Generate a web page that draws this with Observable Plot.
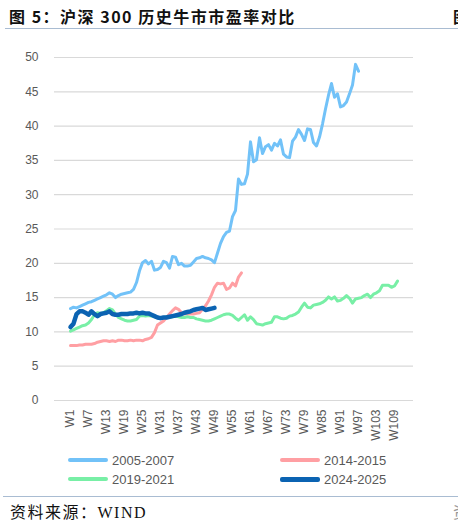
<!DOCTYPE html>
<html>
<head>
<meta charset="utf-8">
<script src="https://cdn.jsdelivr.net/npm/d3@7"></script>
<script src="https://cdn.jsdelivr.net/npm/@observablehq/plot@0.6"></script>
<style>
  html, body { margin: 0; padding: 0; background: #fff; }
  #wrap { position: relative; width: 458px; height: 521px; overflow: hidden; background: #fff; }
  .title { position: absolute; left: 9px; top: 4px; font-family: "Noto Sans CJK SC", sans-serif; font-weight: 700; font-size: 16px; letter-spacing: 1.5px; color: #111; white-space: nowrap; }
  .edge { position: absolute; left: 453px; top: 4px; font-family: "Noto Sans CJK SC", sans-serif; font-weight: 700; font-size: 16px; color: #111; }
  .rule { position: absolute; left: 5px; width: 453px; height: 0; border-top: 1.5px solid #A9BCD2; }
  #chart { position: absolute; left: 0; top: 30px; }
  .leg { position: absolute; display: flex; align-items: center; font-family: "Liberation Sans", Arial, sans-serif; font-size: 13px; color: #595959; height: 20px; }
  .sw { width: 40px; height: 4px; border-radius: 2px; margin-right: 4px; }
  .foot { position: absolute; left: 10px; top: 499px; font-family: "Liberation Serif", "Noto Sans CJK SC", serif; font-size: 16px; letter-spacing: 1.5px; color: #111; white-space: nowrap; }
  .footedge { position: absolute; left: 453px; top: 499px; font-family: "Noto Sans CJK SC", sans-serif; font-size: 16px; color: #999; }
</style>
</head>
<body>
<div id="wrap">
  <div class="title">图 5：沪深 300 历史牛市市盈率对比</div>
  <div class="edge">图</div>
  <div class="rule" style="top:28px"></div>
  <div id="chart"></div>
  <div id="legend"></div>
  <div class="rule" style="top:496px; left:3px; width:455px"></div>
  <div class="foot">资料来源：WIND</div>
  <div class="footedge">资</div>
</div>
<script>
// ---- data ----
const weeks = d3.range(1, 111).map(i => "W" + i);
const tickLabels = ["W1","W7","W13","W19","W25","W31","W37","W43","W49","W55","W61","W67","W73","W79","W85","W91","W97","W103","W109"];
const yTicks = [0, 5, 10, 15, 20, 25, 30, 35, 40, 45, 50];
const seriesNames = ["2005-2007", "2014-2015", "2019-2021", "2024-2025"];
const seriesColors = ["#72C2F8", "#FF9FA3", "#78EFA6", "#0B63B2"];
const seriesWidths = [3, 3, 3, 4.5];

const pe2005 = [13.4,13.6,13.5,13.7,13.9,14.1,14.3,14.4,14.6,14.8,15.0,15.2,15.4,15.7,15.5,15.0,15.3,15.5,15.6,15.7,
  15.8,16.2,17.2,18.9,20.1,20.4,19.9,20.3,19.0,19.1,19.4,20.3,20.1,19.3,21.0,20.9,19.8,20.0,19.6,19.6,
  19.7,20.2,20.7,20.8,21.0,20.8,20.7,20.5,20.1,21.5,22.9,23.9,24.5,24.7,26.8,27.7,32.3,31.5,31.6,33.0,
  37.7,34.8,35.1,38.3,36.0,37.0,37.3,36.5,37.5,37.1,38.0,35.9,35.5,35.4,37.8,38.4,39.5,38.8,37.9,39.6,
  39.5,37.6,37.1,38.4,40.3,42.5,44.5,46.2,44.2,44.7,42.8,43.0,43.5,44.7,46.0,49.0,48.0];
const pe2014 = [8.0,8.0,8.0,8.1,8.1,8.2,8.2,8.2,8.3,8.5,8.6,8.7,8.7,8.6,8.7,8.6,8.8,8.8,8.7,8.7,
  8.8,8.7,8.8,8.8,8.7,8.9,9.0,9.2,9.9,11.0,11.3,11.6,12.1,12.6,13.1,13.5,13.3,12.8,12.6,12.6,
  12.6,12.6,12.7,12.8,13.3,13.8,14.5,15.4,16.5,17.1,17.0,17.1,16.2,16.4,17.1,16.7,18.0,18.6];
const pe2019 = [10.1,10.3,10.5,10.7,10.9,11.0,11.3,11.8,12.5,12.8,12.7,12.8,13.1,13.4,13.2,12.6,12.1,11.9,11.7,11.6,
  11.6,11.7,11.8,12.3,12.4,12.3,12.4,12.3,12.2,12.1,12.0,12.1,12.2,12.1,12.2,12.3,12.2,12.1,12.1,12.2,
  12.1,12.1,11.9,11.8,11.7,11.6,11.6,11.7,11.9,12.1,12.3,12.5,12.6,12.6,12.4,12.0,11.7,12.1,12.5,11.7,
  12.2,11.8,11.2,11.1,11.0,11.2,11.3,11.4,12.2,12.2,12.0,11.9,12.0,12.3,12.4,12.6,12.9,13.6,14.2,13.6,
  13.5,13.9,14.0,14.1,14.3,14.6,15.1,14.8,15.1,14.5,14.6,14.9,15.3,14.9,14.2,14.8,14.9,15.0,15.3,15.5,
  15.0,15.5,15.7,16.0,16.8,16.8,16.8,16.5,16.7,17.4];
const pe2024 = [10.7,11.2,12.6,13.0,13.0,12.8,12.5,13.0,12.6,12.3,12.6,12.7,12.8,13.0,12.6,12.5,12.5,12.6,12.6,12.6,
  12.7,12.7,12.8,12.7,12.8,12.7,12.7,12.5,12.3,12.1,12.0,12.1,12.1,12.2,12.3,12.4,12.5,12.6,12.8,12.9,
  13.0,13.2,13.3,13.4,13.5,13.2,13.3,13.4,13.5];
const seriesValues = [pe2005, pe2014, pe2019, pe2024];

// ---- chart ----
const lineMarks = seriesNames.map((name, si) => {
  const rows = seriesValues[si].map((v, i) => ({week: weeks[i], value: v, series: name}));
  return Plot.line(rows, {x: "week", y: "value", stroke: seriesColors[si], strokeWidth: seriesWidths[si], strokeLinejoin: "round", strokeLinecap: "round"});
});

const chart = Plot.plot({
  width: 458,
  height: 420,
  marginTop: 27,
  marginBottom: 50,
  marginLeft: 54,
  marginRight: 45,
  style: {fontFamily: "Liberation Sans, Arial, sans-serif", fontSize: "12px", color: "#595959", background: "transparent", overflow: "visible"},
  x: {type: "point", domain: weeks, padding: 0.5, axis: null},
  y: {domain: [0, 50], axis: null},
  marks: [
    Plot.ruleY(yTicks, {stroke: "#D9D9D9", strokeWidth: 1.2}),
    Plot.axisY(yTicks, {tickSize: 0, tickPadding: 16, label: null, fill: "#595959"}),
    Plot.axisX(tickLabels, {tickSize: 0, tickPadding: 9, tickRotate: -90, label: null, fill: "#595959"}),
    ...lineMarks
  ]
});
document.getElementById("chart").appendChild(chart);

// ---- legend ----
const legendPos = [[68, 450], [280, 450], [68, 469], [280, 469]];
seriesNames.forEach((name, i) => {
  const item = document.createElement("div");
  item.className = "leg";
  item.style.left = legendPos[i][0] + "px";
  item.style.top = legendPos[i][1] + "px";
  const sw = document.createElement("div");
  sw.className = "sw";
  sw.style.background = seriesColors[i];
  sw.style.height = (i === 3 ? 5 : 4) + "px";
  item.appendChild(sw);
  const t = document.createElement("span");
  t.textContent = name;
  item.appendChild(t);
  document.getElementById("wrap").appendChild(item);
});
</script>
</body>
</html>
